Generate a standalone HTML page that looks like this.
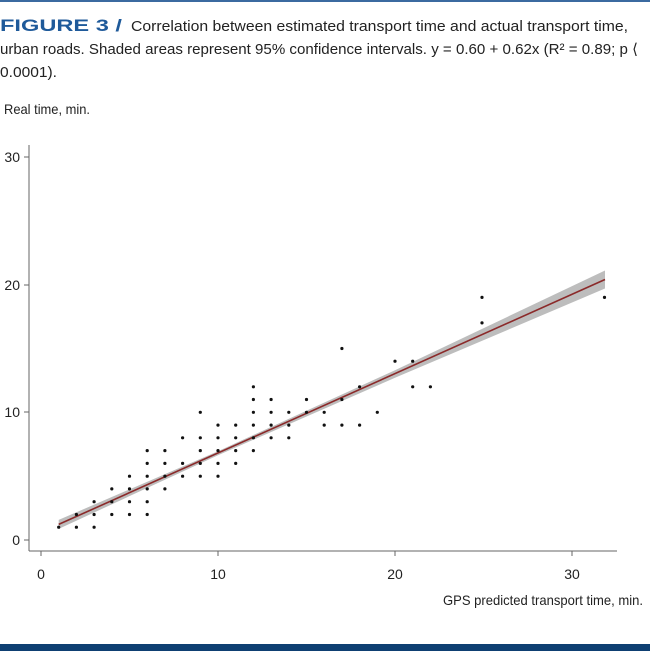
<!DOCTYPE html>
<html><head><meta charset="utf-8"><style>
html,body{margin:0;padding:0;background:#fff;}
svg{display:block;}
text{font-family:"Liberation Sans Narrow","Liberation Sans",sans-serif;fill:#222;}
</style></head><body>
<svg width="650" height="651" viewBox="0 0 650 651" xmlns="http://www.w3.org/2000/svg">
<rect x="0" y="0" width="650" height="2" fill="#3b6aa0"/>
<text x="0" y="31" font-weight="bold" font-size="17" style="fill:#1f5a9a;font-family:'Liberation Sans',sans-serif" textLength="122" lengthAdjust="spacingAndGlyphs">FIGURE 3 /</text>
<text x="131" y="31" font-size="15" textLength="497" lengthAdjust="spacingAndGlyphs">Correlation between estimated transport time and actual transport time,</text>
<text x="0" y="54" font-size="15" textLength="638" lengthAdjust="spacingAndGlyphs">urban roads. Shaded areas represent 95% confidence intervals. y = 0.60 + 0.62x (R² = 0.89; p ⟨</text>
<text x="0" y="77" font-size="15" textLength="57" lengthAdjust="spacingAndGlyphs">0.0001).</text>
<text x="4" y="114" font-size="14" textLength="86" lengthAdjust="spacingAndGlyphs">Real time, min.</text>

<g stroke="#666" stroke-width="1" fill="none">
<line x1="29" y1="145" x2="29" y2="551"/>
<line x1="29" y1="551" x2="617" y2="551"/>
<line x1="24" y1="157" x2="29" y2="157"/>
<line x1="24" y1="285" x2="29" y2="285"/>
<line x1="24" y1="412" x2="29" y2="412"/>
<line x1="24" y1="540" x2="29" y2="540"/>
<line x1="41" y1="551" x2="41" y2="556"/>
<line x1="218" y1="551" x2="218" y2="556"/>
<line x1="395" y1="551" x2="395" y2="556"/>
<line x1="572" y1="551" x2="572" y2="556"/>
</g>
<g font-size="14" text-anchor="end">
<text x="20" y="162">30</text>
<text x="20" y="290">20</text>
<text x="20" y="417">10</text>
<text x="20" y="545">0</text>
</g>
<g font-size="14" text-anchor="middle">
<text x="41" y="579">0</text>
<text x="218" y="579">10</text>
<text x="395" y="579">20</text>
<text x="572" y="579">30</text>
</g>
<text x="643" y="605" font-size="14" text-anchor="end" textLength="200" lengthAdjust="spacingAndGlyphs">GPS predicted transport time, min.</text>

<polygon points="58.7,519.9 218,451.2 395,370.2 605,270.5 605,288.5 395,377.8 218,455.2 58.7,528.9" fill="#bdbdbd"/>
<line x1="58.7" y1="524.4" x2="605" y2="279.5" stroke="#8b2a2a" stroke-width="1.6"/>

<g fill="#111">
<circle cx="58.7" cy="527.2" r="1.6"/>
<circle cx="76.4" cy="514.5" r="1.6"/><circle cx="76.4" cy="527.2" r="1.6"/>
<circle cx="94.1" cy="501.7" r="1.6"/><circle cx="94.1" cy="514.5" r="1.6"/><circle cx="94.1" cy="527.2" r="1.6"/>
<circle cx="111.8" cy="488.9" r="1.6"/><circle cx="111.8" cy="501.7" r="1.6"/><circle cx="111.8" cy="514.5" r="1.6"/>
<circle cx="129.5" cy="476.2" r="1.6"/><circle cx="129.5" cy="488.9" r="1.6"/><circle cx="129.5" cy="501.7" r="1.6"/><circle cx="129.5" cy="514.5" r="1.6"/>
<circle cx="147.2" cy="450.6" r="1.6"/><circle cx="147.2" cy="463.4" r="1.6"/><circle cx="147.2" cy="476.2" r="1.6"/><circle cx="147.2" cy="488.9" r="1.6"/><circle cx="147.2" cy="501.7" r="1.6"/><circle cx="147.2" cy="514.5" r="1.6"/>
<circle cx="164.9" cy="450.6" r="1.6"/><circle cx="164.9" cy="463.4" r="1.6"/><circle cx="164.9" cy="476.2" r="1.6"/><circle cx="164.9" cy="488.9" r="1.6"/>
<circle cx="182.6" cy="437.8" r="1.6"/><circle cx="182.6" cy="463.4" r="1.6"/><circle cx="182.6" cy="476.2" r="1.6"/>
<circle cx="200.3" cy="412.3" r="1.6"/><circle cx="200.3" cy="437.8" r="1.6"/><circle cx="200.3" cy="450.6" r="1.6"/><circle cx="200.3" cy="463.4" r="1.6"/><circle cx="200.3" cy="476.2" r="1.6"/>
<circle cx="218" cy="425.1" r="1.6"/><circle cx="218" cy="437.8" r="1.6"/><circle cx="218" cy="450.6" r="1.6"/><circle cx="218" cy="463.4" r="1.6"/><circle cx="218" cy="476.2" r="1.6"/>
<circle cx="235.7" cy="425.1" r="1.6"/><circle cx="235.7" cy="437.8" r="1.6"/><circle cx="235.7" cy="450.6" r="1.6"/><circle cx="235.7" cy="463.4" r="1.6"/>
<circle cx="253.4" cy="386.8" r="1.6"/><circle cx="253.4" cy="399.5" r="1.6"/><circle cx="253.4" cy="412.3" r="1.6"/><circle cx="253.4" cy="425.1" r="1.6"/><circle cx="253.4" cy="437.8" r="1.6"/><circle cx="253.4" cy="450.6" r="1.6"/>
<circle cx="271.1" cy="399.5" r="1.6"/><circle cx="271.1" cy="412.3" r="1.6"/><circle cx="271.1" cy="425.1" r="1.6"/><circle cx="271.1" cy="437.8" r="1.6"/>
<circle cx="288.8" cy="412.3" r="1.6"/><circle cx="288.8" cy="425.1" r="1.6"/><circle cx="288.8" cy="437.8" r="1.6"/>
<circle cx="306.5" cy="399.5" r="1.6"/><circle cx="306.5" cy="412.3" r="1.6"/>
<circle cx="324.2" cy="412.3" r="1.6"/><circle cx="324.2" cy="425.1" r="1.6"/>
<circle cx="341.9" cy="348.5" r="1.6"/><circle cx="341.9" cy="399.5" r="1.6"/><circle cx="341.9" cy="425.1" r="1.6"/>
<circle cx="359.6" cy="386.8" r="1.6"/><circle cx="359.6" cy="425.1" r="1.6"/>
<circle cx="377.3" cy="412.3" r="1.6"/>
<circle cx="395" cy="361.2" r="1.6"/>
<circle cx="412.7" cy="361.2" r="1.6"/><circle cx="412.7" cy="386.8" r="1.6"/>
<circle cx="430.4" cy="386.8" r="1.6"/>
<circle cx="482" cy="297.4" r="1.6"/><circle cx="482" cy="322.9" r="1.6"/>
<circle cx="604.5" cy="297.4" r="1.6"/>
</g>
<rect x="0" y="644" width="650" height="7" fill="#0e3f72"/>
</svg>
</body></html>
